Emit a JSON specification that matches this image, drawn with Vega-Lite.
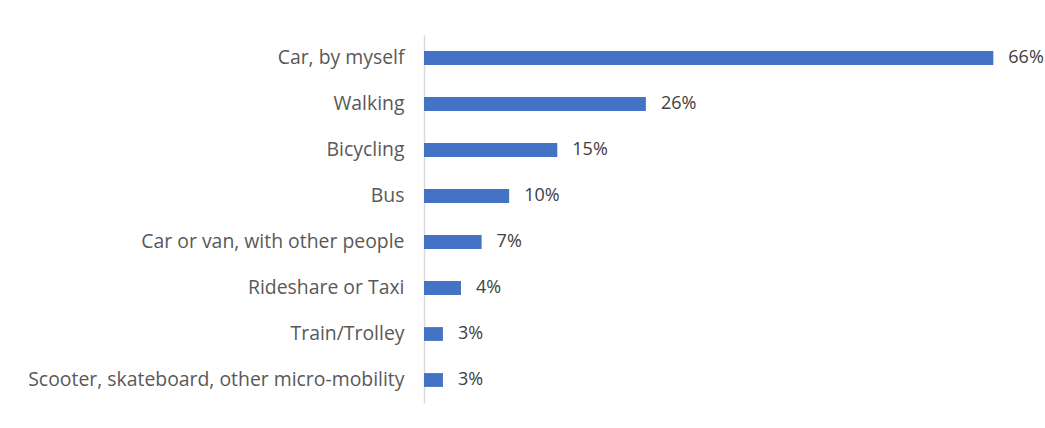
{
  "$schema": "https://vega.github.io/schema/vega-lite/v6.json",
  "width": 602,
  "height": 368,
  "autosize": {"type": "none"},
  "padding": {"left": 424, "top": 35, "right": 19, "bottom": 25},
  "background": "white",
  "config": {"view": {"stroke": null}, "font": "Open Sans"},
  "data": {
    "values": [
      {"mode": "Car, by myself", "share": 66.2, "label": "66%"},
      {"mode": "Walking", "share": 25.8, "label": "26%"},
      {"mode": "Bicycling", "share": 15.5, "label": "15%"},
      {"mode": "Bus", "share": 9.9, "label": "10%"},
      {"mode": "Car or van, with other people", "share": 6.7, "label": "7%"},
      {"mode": "Rideshare or Taxi", "share": 4.3, "label": "4%"},
      {"mode": "Train/Trolley", "share": 2.2, "label": "3%"},
      {"mode": "Scooter, skateboard, other micro-mobility", "share": 2.2, "label": "3%"}
    ]
  },
  "encoding": {
    "y": {
      "field": "mode",
      "type": "nominal",
      "sort": null,
      "scale": {"paddingInner": 0.7, "paddingOuter": 0.35},
      "axis": {
        "title": null,
        "domainColor": "#d9d9d9",
        "domainWidth": 1.5,
        "ticks": false,
        "labelPadding": 20,
        "labelFontSize": 19.4,
        "labelColor": "#595959",
        "labelLimit": 420
      }
    },
    "x": {
      "field": "share",
      "type": "quantitative",
      "scale": {"domain": [0, 70], "nice": false},
      "axis": null
    }
  },
  "layer": [
    {"mark": {"type": "bar", "color": "#4472C4"}},
    {
      "mark": {"type": "text", "align": "left", "baseline": "middle", "dx": 15, "fontSize": 18, "color": "#404040"},
      "encoding": {"text": {"field": "label"}}
    }
  ]
}
